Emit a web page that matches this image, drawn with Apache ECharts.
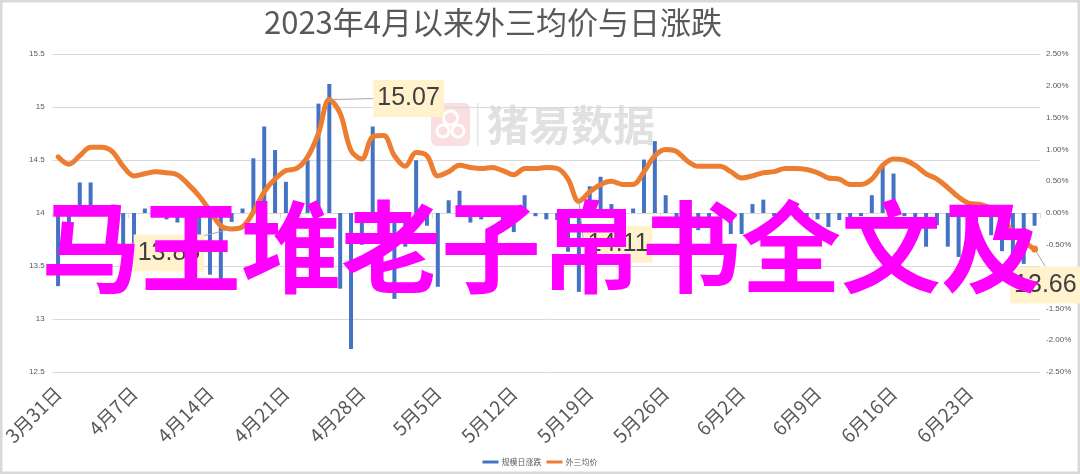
<!DOCTYPE html>
<html>
<head>
<meta charset="utf-8">
<script src="https://cdn.jsdelivr.net/npm/echarts@6/dist/echarts.min.js"></script>
<style>
html,body{margin:0;padding:0;background:#fff;}
#chart{width:1080px;height:474px;}
</style>
</head>
<body>
<div id="chart"></div>
<script>
const titleText = '2023年4月以来外三均价与日涨跌';
const overlayText = '马王堆老子帛书全文及';
const watermarkText = '猪易数据';
const seriesNames = ['规模日涨跌', '外三均价'];

const dates = [
'3月31日',
'4月1日','4月2日','4月3日','4月4日','4月5日','4月6日','4月7日','4月8日','4月9日','4月10日',
'4月11日','4月12日','4月13日','4月14日','4月15日','4月16日','4月17日','4月18日','4月19日','4月20日',
'4月21日','4月22日','4月23日','4月24日','4月25日','4月26日','4月27日','4月28日','4月29日','4月30日',
'5月1日','5月2日','5月3日','5月4日','5月5日','5月6日','5月7日','5月8日','5月9日','5月10日',
'5月11日','5月12日','5月13日','5月14日','5月15日','5月16日','5月17日','5月18日','5月19日','5月20日',
'5月21日','5月22日','5月23日','5月24日','5月25日','5月26日','5月27日','5月28日','5月29日','5月30日','5月31日',
'6月1日','6月2日','6月3日','6月4日','6月5日','6月6日','6月7日','6月8日','6月9日','6月10日',
'6月11日','6月12日','6月13日','6月14日','6月15日','6月16日','6月17日','6月18日','6月19日','6月20日',
'6月21日','6月22日','6月23日','6月24日','6月25日','6月26日','6月27日','6月28日','6月29日'
];

// 外三均价 (left axis)
const avgPrice = [
14.53,14.46,14.54,14.62,14.62,14.58,14.44,
14.35,14.37,14.39,14.38,14.36,14.27,14.16,
14.02,13.88,13.85,13.87,14.01,14.20,14.32,
14.40,14.42,14.53,14.75,15.07,14.94,14.59,
14.51,14.72,14.73,14.54,14.44,14.57,14.54,
14.35,14.39,14.45,14.43,14.42,14.43,14.40,
14.36,14.42,14.42,14.43,14.42,14.32,14.11,
14.20,14.27,14.30,14.27,14.27,14.39,14.54,
14.60,14.58,14.49,14.44,14.44,14.44,14.39,
14.33,14.35,14.38,14.39,14.42,14.42,14.41,
14.38,14.33,14.32,14.27,14.27,14.32,14.45,
14.51,14.50,14.45,14.37,14.32,14.24,14.15,
14.09,14.08,14.04,13.95,13.82,13.73,13.66
];

// 规模日涨跌 in percent (right axis)
const dailyChange = [
-1.15,-0.50,0.48,0.48,-0.03,-0.05,-0.52,
-0.48,0.07,-0.05,-0.10,-0.15,-0.40,-0.35,
-0.97,-1.06,-0.14,0.07,0.86,1.36,0.99,
0.49,-0.10,0.83,1.72,2.03,-1.19,-2.14,
-0.50,1.36,-0.10,-1.35,-0.53,0.83,-0.20,
-1.16,0.20,0.35,-0.15,-0.10,-0.05,-0.20,
-0.30,0.28,-0.05,-0.10,-0.11,-0.61,-1.24,
0.42,0.57,0.14,-0.15,0.07,0.84,1.13,
0.28,-0.20,-0.45,-0.27,-0.10,-0.05,-0.33,
-0.33,0.14,0.21,-0.05,-0.10,-0.10,-0.20,
-0.10,-0.22,-0.11,-0.19,-0.05,0.28,0.77,
0.62,-0.05,-0.30,-0.53,-0.19,-0.53,-0.69,
-0.10,-0.05,-0.35,-0.60,-0.80,-0.80,-0.20
];

const leftTicks = {min: 12.5, max: 15.5, interval: 0.5};
const rightTicks = {min: -2.5, max: 2.5, interval: 0.5};

// indices of annotated points and where their callouts sit (pixel offsets)
const calloutIdx = [16, 25, 48, 90];
const calloutOffset = {16: [-98, 24], 25: [44, -1], 48: [5, 43], 90: [-28, 36]};

const lastIdx = avgPrice.length - 1;
const lineData = avgPrice.map((v, i) => {
  const item = {value: v};
  if (calloutIdx.indexOf(i) >= 0) {
    item.label = {show: true};
  }
  if (i === lastIdx) {
    item.symbolSize = 7;
  }
  return item;
});

const chart = echarts.init(document.getElementById('chart'), null, {renderer: 'canvas'});
const CJK = '"Noto Sans CJK SC", "Noto Sans", sans-serif';

chart.setOption({
  backgroundColor: '#ffffff',
  animation: false,
  title: {
    text: titleText,
    left: 264,
    top: 7,
    padding: 0,
    textStyle: {fontSize: 31, fontWeight: 'normal', color: '#595959', fontFamily: CJK}
  },
  legend: {
    data: seriesNames,
    bottom: 3,
    left: 'center',
    icon: 'rect',
    itemWidth: 16,
    itemHeight: 3,
    itemGap: 5,
    textStyle: {fontSize: 8, color: '#595959', fontFamily: CJK, padding: [0, 0, 0, -2]}
  },
  grid: {left: 50, right: 40, top: 54, bottom: 102},
  xAxis: {
    type: 'category',
    data: dates,
    boundaryGap: true,
    axisLine: {show: true, lineStyle: {color: '#d9d9d9', width: 1}},
    axisTick: {show: true, interval: 6, length: 5, lineStyle: {color: '#d9d9d9'}},
    axisLabel: {interval: 6, rotate: 45, fontSize: 19, color: '#595959', fontFamily: CJK, margin: 18},
    splitLine: {show: false}
  },
  yAxis: [
    {
      type: 'value',
      min: leftTicks.min, max: leftTicks.max, interval: leftTicks.interval,
      axisLine: {show: false},
      axisTick: {show: false},
      axisLabel: {fontSize: 8, color: '#595959', margin: 8, fontFamily: 'Liberation Sans, sans-serif',
        formatter: v => String(+v.toFixed(1))},
      splitLine: {show: true, lineStyle: {color: '#d9d9d9', width: 1}}
    },
    {
      type: 'value',
      min: rightTicks.min, max: rightTicks.max, interval: rightTicks.interval,
      axisLine: {show: false},
      axisTick: {show: false},
      axisLabel: {fontSize: 8, color: '#595959', margin: 6, fontFamily: 'Liberation Sans, sans-serif',
        formatter: v => v.toFixed(2) + '%'},
      splitLine: {show: false}
    }
  ],
  series: [
    {
      name: seriesNames[0],
      type: 'bar',
      yAxisIndex: 1,
      data: dailyChange,
      barWidth: 4,
      itemStyle: {color: '#4472C4'},
      z: 2
    },
    {
      name: seriesNames[1],
      type: 'line',
      yAxisIndex: 0,
      data: lineData,
      smooth: 0.35,
      showSymbol: true,
      symbol: 'circle',
      symbolSize: 0,
      lineStyle: {color: '#ED7D31', width: 5, cap: 'round', join: 'round'},
      itemStyle: {color: '#ED7D31'},
      label: {
        show: false,
        position: 'right',
        distance: 0,
        formatter: p => p.value.toFixed(2),
        fontSize: 25,
        lineHeight: 25,
        color: '#404040',
        fontFamily: 'Liberation Sans, Arial, sans-serif',
        backgroundColor: '#FFF2CC',
        padding: [6, 4, 6, 4]
      },
      labelLine: {show: true, lineStyle: {color: '#a6a6a6', width: 1}},
      labelLayout: function (p) {
        const off = calloutOffset[p.dataIndex];
        if (!off) return {};
        return {dx: off[0], dy: off[1], hideOverlap: false};
      },
      z: 3
    }
  ],
  graphic: [
    {
      type: 'rect', z: 0, silent: true,
      shape: {x: 1, y: 1, width: 1078, height: 472},
      style: {fill: 'none', stroke: '#d9d9d9', lineWidth: 3}
    },
    {
      type: 'group', z: 1, silent: true, left: 431, top: 103,
      children: [
        {type: 'rect', shape: {x: 0, y: 0, width: 39, height: 43, r: 6}, style: {fill: '#f7d4d4', opacity: 0.75}},
        {type: 'circle', shape: {cx: 19.5, cy: 15, r: 7}, style: {fill: 'none', stroke: '#ffffff', lineWidth: 3}},
        {type: 'circle', shape: {cx: 12, cy: 28, r: 6}, style: {fill: 'none', stroke: '#ffffff', lineWidth: 3}},
        {type: 'circle', shape: {cx: 27, cy: 28, r: 6}, style: {fill: 'none', stroke: '#ffffff', lineWidth: 3}},
        {type: 'rect', shape: {x: 46, y: 0, width: 1.5, height: 43}, style: {fill: '#e6e6e6'}},
        {type: 'text', style: {x: 56, y: 22, text: watermarkText, fill: '#dedede', opacity: 0.9,
          font: 'bold 42px "Noto Sans CJK SC", sans-serif', textAlign: 'left', textVerticalAlign: 'middle'}}
      ]
    },
    {
      type: 'text', z: 100, silent: true,
      style: {x: 541, y: 247, text: overlayText, fill: '#FF00FF',
        font: 'bold 100px "Noto Sans CJK SC", sans-serif', textAlign: 'center', textVerticalAlign: 'middle'}
    }
  ]
});
</script>
</body>
</html>
